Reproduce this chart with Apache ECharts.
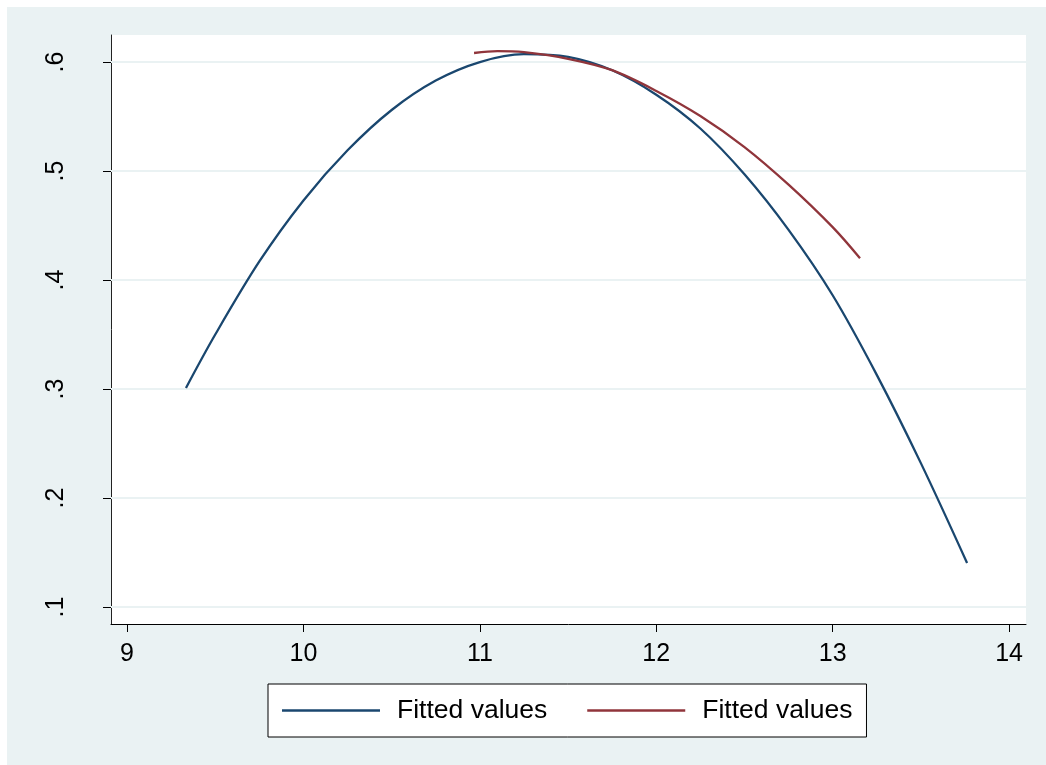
<!DOCTYPE html>
<html>
<head>
<meta charset="utf-8">
<script src="https://cdn.jsdelivr.net/npm/echarts@6/dist/echarts.min.js"></script>
<style>
html,body{margin:0;padding:0;background:#ffffff;}
#chart{width:1046px;height:765px;}
</style>
</head>
<body>
<div id="chart"></div>
<script>
// Data
const blueX = [9.334, 9.5, 9.75, 10.0, 10.25, 10.5, 10.75, 11.0, 11.25, 11.5, 11.75, 12.0, 12.25, 12.5, 12.75, 13.0, 13.25, 13.5, 13.762];
const blueY = [0.301, 0.350, 0.417, 0.473, 0.519, 0.556, 0.583, 0.600, 0.6072, 0.6047, 0.5924, 0.570, 0.539, 0.497, 0.446, 0.386, 0.313, 0.232, 0.1404];
const redX = [10.967, 11.1, 11.25, 11.5, 11.75, 12.0, 12.25, 12.5, 12.75, 13.0, 13.155];
const redY = [0.6083, 0.6100, 0.6090, 0.6030, 0.5925, 0.5735, 0.5505, 0.5220, 0.4875, 0.4485, 0.4200];
const xTicks = [9, 10, 11, 12, 13, 14];
const yTicks = [0.1, 0.2, 0.3, 0.4, 0.5, 0.6];
const yTickLabels = ['.1', '.2', '.3', '.4', '.5', '.6'];
const seriesNames = ['fit1', 'fit2'];
const legendLabels = ['Fitted values', 'Fitted values'];

const pair = (xs, ys) => xs.map((x, i) => [x, ys[i]]);
const FONT = '"Liberation Sans", Arial, sans-serif';

const chart = echarts.init(document.getElementById('chart'), null, {renderer: 'canvas'});
chart.setOption({
  animation: false,
  backgroundColor: '#ffffff',
  graphic: [{
    type: 'rect', left: 7, top: 7, z: -100,
    shape: {width: 1100, height: 800},
    style: {fill: '#EAF2F3'}
  }],
  grid: {
    left: 111, right: 20, top: 35, bottom: 141,
    show: true, backgroundColor: '#ffffff', borderWidth: 0
  },
  legend: {
    left: 268, top: 684,
    padding: [13, 14, 13, 14],
    backgroundColor: '#ffffff',
    borderColor: '#000000', borderWidth: 1,
    itemWidth: 98, itemHeight: 2.5, itemGap: 40,
    icon: 'rect',
    data: seriesNames,
    formatter: name => legendLabels[seriesNames.indexOf(name)],
    textStyle: {fontFamily: FONT, fontSize: 26.5, color: '#000', padding: [0, 0, 0, 12]}
  },
  xAxis: {
    type: 'value', min: 8.909, max: 14.096,
    axisLine: {show: true, onZero: false, lineStyle: {color: '#000', width: 1}},
    axisTick: {show: true, length: 8, customValues: xTicks, lineStyle: {color: '#000'}},
    axisLabel: {customValues: xTicks, margin: 18, fontFamily: FONT, fontSize: 25, color: '#000',
      formatter: v => String(v)},
    splitLine: {show: false}
  },
  yAxis: {
    type: 'value', min: 0.0844, max: 0.6248,
    axisLine: {show: true, onZero: false, lineStyle: {color: '#222', width: 1}},
    axisTick: {show: true, length: 8, customValues: yTicks, lineStyle: {color: '#000'}},
    axisLabel: {customValues: yTicks, rotate: 90, margin: 42, fontFamily: FONT, fontSize: 25, color: '#000',
      formatter: v => yTickLabels[yTicks.findIndex(t => Math.abs(t - v) < 1e-6)]},
    splitLine: {show: false}
  },
  series: [
    {
      name: 'grid', type: 'line', data: [], z: 1, silent: true,
      markLine: {
        z: 1, silent: true, symbol: 'none', label: {show: false},
        lineStyle: {color: '#EAF2F3', width: 2, type: 'solid'},
        data: yTicks.map(v => ({yAxis: v}))
      }
    },
    {
      name: seriesNames[0], type: 'line', data: pair(blueX, blueY), z: 3,
      showSymbol: false, smooth: 0.33, color: '#1A476F',
      lineStyle: {color: '#1A476F', width: 2.3}
    },
    {
      name: seriesNames[1], type: 'line', data: pair(redX, redY), z: 4,
      showSymbol: false, smooth: 0.33, color: '#90353B',
      lineStyle: {color: '#90353B', width: 2.3}
    }
  ]
});
</script>
</body>
</html>
